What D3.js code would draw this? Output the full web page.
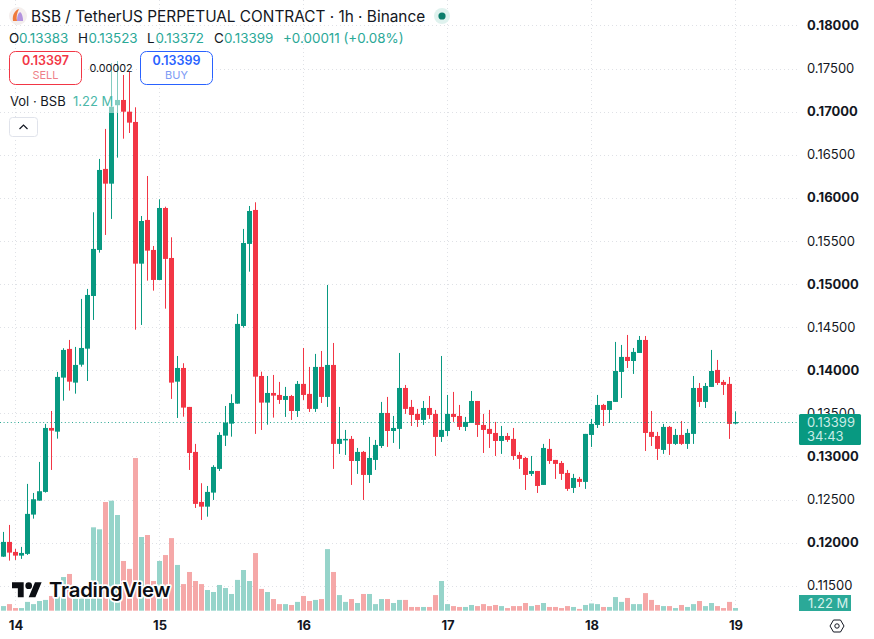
<!DOCTYPE html>
<html>
<head>
<meta charset="utf-8">
<script src="https://cdn.jsdelivr.net/npm/d3@7"></script>
<style>
html,body{margin:0;padding:0;background:#fff;overflow:hidden}
svg{display:block;font-family:Inter,"Noto Sans",sans-serif}
</style>
</head>
<body>
<svg id="chart" width="874" height="639"></svg>
<script>
// Hourly BSB/USDT perpetual candles; the first candle sits two hours before the 14th.
const firstHour = -2;
const opens = [.11837,.12008,.11892,.11849,.11869,.12325,.12487,.12588,.13330,.13287,.13914,.14247,.13856,.14064,.14250,.14861,.15395,.16335,.16164,.17074,.17135,.16999,.16880,.15236,.15743,.15395,.15047,.15882,.15302,.13867,.14026,.13574,.13052,.12472,.12417,.12580,.12855,.13241,.13380,.13612,.14513,.15465,.15859,.13933,.13624,.13736,.13713,.13655,.13701,.13527,.13841,.13725,.13551,.14038,.13690,.14061,.13145,.13191,.13203,.12947,.13052,.12785,.12959,.13121,.13504,.13295,.13319,.13794,.13574,.13493,.13423,.13562,.13493,.13226,.13295,.13493,.13469,.13342,.13388,.13643,.13365,.13319,.13272,.13179,.13237,.13203,.13017,.12982,.12797,.12831,.12669,.13087,.12959,.12924,.12808,.12634,.12739,.12704,.13249,.13365,.13597,.13539,.13632,.13980,.14154,.14107,.14200,.14351,.13284,.13237,.13075,.13342,.13145,.13249,.13145,.13261,.13794,.13632,.13806,.14003,.13864,.13841,.13383];
const highs = [.12124,.12205,.11927,.11950,.12681,.12576,.12936,.13377,.13527,.13980,.14255,.14351,.14270,.14827,.14943,.15832,.16451,.16799,.17564,.17587,.17425,.17463,.17050,.15789,.16253,.15441,.15983,.15897,.15542,.14165,.14081,.13574,.13145,.12689,.12657,.12898,.13280,.13585,.13721,.14653,.15639,.15905,.15948,.13983,.13933,.13945,.13864,.13806,.13713,.13875,.14258,.14038,.14189,.14223,.14989,.14316,.13574,.13307,.13237,.13098,.13063,.13226,.13191,.13632,.13690,.13469,.14200,.13829,.13655,.13551,.13643,.13701,.13539,.14165,.13713,.13748,.13597,.13458,.13759,.13643,.13493,.13539,.13400,.13353,.13272,.13330,.13052,.12994,.13005,.12831,.13145,.13203,.12959,.12947,.12843,.12797,.12762,.13261,.13435,.13713,.13609,.13643,.14328,.14293,.14409,.14258,.14397,.14397,.13527,.13284,.13377,.13353,.13319,.13411,.13319,.13933,.13852,.13852,.14235,.14119,.13887,.13922,.13523];
const lows = [.11834,.11791,.11799,.11811,.11857,.12278,.12487,.12580,.12843,.13206,.13647,.13763,.13728,.14041,.13875,.14583,.15364,.15569,.15755,.16466,.16686,.16752,.14470,.14525,.15039,.14923,.15047,.14714,.13667,.13446,.13461,.12843,.12402,.12263,.12301,.12495,.12831,.13121,.13229,.13612,.14494,.15143,.13261,.13307,.13368,.13450,.13609,.13458,.13423,.13458,.13655,.13516,.13516,.13620,.13574,.12855,.13029,.13017,.12669,.12797,.12495,.12692,.12843,.13098,.13110,.13156,.13087,.13493,.13353,.13342,.13365,.13435,.13005,.13168,.13237,.13400,.13307,.13295,.13388,.13226,.13040,.13098,.13005,.13029,.13168,.12959,.12855,.12611,.12773,.12576,.12669,.12913,.12739,.12727,.12600,.12576,.12646,.12623,.13110,.13330,.13353,.13388,.13632,.13678,.14026,.13957,.14200,.13063,.13121,.12959,.13029,.13017,.13133,.13133,.13087,.13145,.13574,.13562,.13806,.13829,.13713,.13203,.13372];
const closes = [.12008,.11884,.11849,.11880,.12333,.12503,.12596,.13330,.13299,.13922,.14235,.13867,.14061,.14258,.14873,.15407,.16323,.16164,.17057,.17135,.16999,.16872,.15236,.15731,.15387,.15047,.15882,.15291,.13856,.14026,.13566,.13040,.12449,.12417,.12588,.12878,.13249,.13392,.13620,.14537,.15476,.15847,.13925,.13624,.13736,.13705,.13655,.13701,.13527,.13841,.13713,.13551,.14038,.13690,.14061,.13145,.13203,.13203,.12947,.13052,.12785,.12982,.13133,.13504,.13295,.13330,.13794,.13551,.13481,.13423,.13562,.13481,.13226,.13307,.13493,.13458,.13342,.13400,.13643,.13365,.13307,.13261,.13179,.13237,.13191,.13005,.12971,.12785,.12831,.12657,.13098,.12947,.12913,.12797,.12623,.12750,.12704,.13261,.13377,.13597,.13539,.13643,.13991,.14154,.14107,.14212,.14351,.13272,.13226,.13087,.13342,.13145,.13249,.13145,.13272,.13794,.13632,.13817,.13991,.13852,.13829,.13377,.13399];
// Traded volume per candle, in millions of BSB.
const volumes = [2.1,3.0,1.2,1.2,4.0,3.0,4.4,4.9,6.7,6.4,15.3,16.7,5.5,5.5,5.5,37.9,37.0,49.4,50.0,43.5,22.6,19.0,69.4,33.5,34.4,13.5,22.6,25.3,33.0,20.8,12.1,17.6,13.5,12.1,9.4,8.5,11.7,10.3,7.6,14.0,18.5,13.5,26.2,9.9,8.5,5.3,3.0,3.0,2.6,4.0,6.7,4.4,4.9,5.3,28.0,17.6,7.1,4.0,5.3,3.5,7.6,7.6,3.0,5.3,5.3,3.5,4.9,4.9,1.7,1.7,1.7,1.7,7.1,13.5,3.0,2.1,1.7,1.7,2.6,2.1,3.0,2.1,2.6,2.1,1.2,2.1,2.1,3.5,2.1,2.6,3.5,1.7,1.7,1.2,2.1,1.7,0.8,2.6,3.3,3.0,1.7,1.7,6.2,4.0,5.8,3.0,3.0,8.0,4.9,2.6,2.1,2.1,1.2,2.6,1.7,3.0,4.4,2.1,3.5,2.1,1.2,4.0,1.22];

const priceTicks = [.115,.12,.125,.13,.135,.14,.145,.15,.155,.16,.165,.17,.175,.18];
const dayLabels = ["14","15","16","17","18","19"];

const lastClose = .13399;
const title = "BSB / TetherUS PERPETUAL CONTRACT \u00b7 1h \u00b7 Binance";
const legendOHLC = [["O","0.13383",9,19],["H","0.13523",78,88.5],["L","0.13372",147,155.5],["C","0.13399",214,224]];

const GREEN = "#089981", RED = "#f23645", INK = "#131722";
const GRID = "#dfe1e6";

const svg = d3.select("#chart");
const x = d3.scaleLinear().domain([0, 120]).range([15.5, 735.5]);
const y = d3.scaleLinear().domain([.115, .18]).range([585.7, 25.4]);
const vol = d3.scaleLinear().domain([0, 70]).range([610.7, 456.7]);

const candles = opens.map((o, i) => ({
  hour: firstHour + i, o, h: highs[i], l: lows[i], c: closes[i], v: volumes[i], up: closes[i] >= o
}));
const dayHours = dayLabels.map((_, i) => i * 24);

// Dotted grid behind everything
const grid = svg.append("g").attr("stroke", GRID).attr("stroke-dasharray", "1 3");
grid.selectAll("line.h").data(priceTicks).join("line").attr("class", "h")
  .attr("x1", 0).attr("x2", 798).attr("y1", d => Math.round(y(d)) + .5).attr("y2", d => Math.round(y(d)) + .5);
grid.selectAll("line.v").data(dayHours).join("line").attr("class", "v")
  .attr("y1", 0).attr("y2", 612).attr("x1", d => Math.floor(x(d)) + .5).attr("x2", d => Math.floor(x(d)) + .5);

// Volume bars
svg.append("g").selectAll("rect").data(candles).join("rect")
  .attr("x", d => x(d.hour) - 2.5).attr("width", 5)
  .attr("y", d => vol(d.v)).attr("height", d => vol(0) - vol(d.v))
  .attr("fill", d => d.up ? "#96d4ca" : "#f5a8a8");

// Candles: wick first, then body
const candle = svg.append("g");
candle.selectAll("rect.wick").data(candles).join("rect").attr("class", "wick")
  .attr("x", d => x(d.hour) - .5).attr("width", 1)
  .attr("y", d => y(d.h)).attr("height", d => y(d.l) - y(d.h))
  .attr("fill", d => d.up ? GREEN : RED);
candle.selectAll("rect.body").data(candles).join("rect").attr("class", "body")
  .attr("x", d => x(d.hour) - 2.5).attr("width", 5)
  .attr("y", d => y(Math.max(d.o, d.c)))
  .attr("height", d => Math.max(1.5, y(Math.min(d.o, d.c)) - y(Math.max(d.o, d.c))))
  .attr("fill", d => d.up ? GREEN : RED);

// Current price line
svg.append("line").attr("x1", 0).attr("x2", 799)
  .attr("y1", Math.round(y(lastClose)) + .5).attr("y2", Math.round(y(lastClose)) + .5)
  .attr("stroke", GREEN).attr("stroke-opacity", .85).attr("stroke-dasharray", "1 2.6");

// Price axis on the right, round prices in bold
const yAxis = d3.axisRight(y).tickValues(priceTicks).tickSize(0).tickPadding(0).tickFormat(d3.format(".5f"));
const yg = svg.append("g").attr("transform", "translate(807,0)").call(yAxis);
yg.select(".domain").remove();
yg.selectAll("text").attr("font-family", "Inter").attr("font-size", 13).attr("fill", INK).attr("x", 0)
  .attr("font-weight", d => Math.round(d * 1000) % 10 === 0 ? 700 : 400);

// Day axis
const xAxis = d3.axisBottom(x).tickValues(dayHours).tickSize(0).tickPadding(0).tickFormat((d, i) => dayLabels[i]);
const xg = svg.append("g").attr("transform", "translate(0,621)").call(xAxis);
xg.select(".domain").remove();
xg.selectAll("text").attr("font-family", "Inter").attr("font-size", 13).attr("font-weight", 700).attr("fill", INK)
  .attr("dy", "0.71em").attr("y", 0);

// Last price tag and volume tag
svg.append("rect").attr("x", 799).attr("y", 414).attr("width", 62).attr("height", 31).attr("rx", 1.5).attr("fill", GREEN);
svg.append("text").attr("x", 807).attr("y", 427).attr("font-size", 13).attr("fill", "#c9ece6").text(d3.format(".5f")(lastClose));
svg.append("text").attr("x", 807).attr("y", 441).attr("font-size", 13).attr("fill", "#c9ece6").text("34:43");
svg.append("rect").attr("x", 799).attr("y", 595).attr("width", 52).attr("height", 16).attr("fill", "#2ba998");
svg.append("text").attr("x", 808).attr("y", 608).attr("font-size", 13).attr("fill", "#d6f1ec").text("1.22 M");

// Settings hexagon beside the day axis
const gear = svg.append("g").attr("transform", "translate(837,626)").attr("fill", "none").attr("stroke", INK).attr("stroke-width", 1);
gear.append("path").attr("d", "M-7 0L-3.5-6H3.5L7 0L3.5 6H-3.5Z").attr("stroke-linejoin", "round");
gear.append("circle").attr("r", 2.2);

// Watermark
const wm = svg.append("g").attr("transform", "translate(12,579) scale(.835)");
const logoPath = "M14 22H7V11H0V4h14v18zM28 22h-8l7.5-18h8L28 22z";
wm.append("path").attr("d", logoPath).attr("fill", "#fff").attr("stroke", "#fff").attr("stroke-width", 4);
wm.append("circle").attr("cx", 20).attr("cy", 8).attr("r", 4).attr("fill", "#fff").attr("stroke", "#fff").attr("stroke-width", 4);
wm.append("path").attr("d", logoPath).attr("fill", "#0c0e13");
wm.append("circle").attr("cx", 20).attr("cy", 8).attr("r", 4).attr("fill", "#0c0e13");
svg.append("text").attr("x", 49).attr("y", 597).attr("font-size", 20.3).attr("font-weight", 600)
  .attr("letter-spacing", -.2).attr("fill", "#0c0e13").attr("stroke", "#fff").attr("stroke-width", 3.5)
  .attr("stroke-linejoin", "round").attr("paint-order", "stroke").text("TradingView");

// Legend wash over the candles that run behind it
svg.append("rect").attr("x", 100).attr("y", 55).attr("width", 20).attr("height", 58).attr("fill", "#fff").attr("opacity", .5);

// Header
const icon = svg.append("g").attr("transform", "translate(18,16)");
icon.append("circle").attr("r", 9).attr("fill", "#f4efee");
icon.append("path").attr("d", "M-5 5C-6-1-3-6 1-7C-1-3-2 1-1 5Z").attr("fill", "#ef7a3c");
icon.append("path").attr("d", "M-1 5C-1 0 0-3 2-4C4-3 5 1 5 5Z").attr("fill", "#b493de");

svg.append("text").attr("x", 31).attr("y", 22).attr("font-size", 15.37).attr("fill", INK).text(title);
svg.append("circle").attr("cx", 442).attr("cy", 16).attr("r", 8).attr("fill", "#dff2ee");
svg.append("circle").attr("cx", 442).attr("cy", 16).attr("r", 3.6).attr("fill", "#0c7d6b");

const ohlc = svg.append("g").attr("font-size", 13.4);
legendOHLC.forEach(([k, v, keyX, valueX]) => {
  ohlc.append("text").attr("x", keyX).attr("y", 43).attr("fill", INK).text(k);
  ohlc.append("text").attr("x", valueX).attr("y", 43).attr("fill", "#2aa897").text(v);
});
ohlc.append("text").attr("x", 283).attr("y", 43).attr("fill", "#2aa897").text("+0.00011 (+0.08%)");

// Sell and buy buttons
const button = (bx, color, pale, price, label) => {
  svg.append("rect").attr("x", bx).attr("y", 51.5).attr("width", 72).attr("height", 33).attr("rx", 6)
    .attr("fill", "#fff").attr("stroke", color);
  svg.append("text").attr("x", bx + 36).attr("y", 65).attr("text-anchor", "middle").attr("font-size", 12.5)
    .attr("font-weight", 600).attr("fill", color).text(price);
  svg.append("text").attr("x", bx + 36).attr("y", 79).attr("text-anchor", "middle").attr("font-size", 11)
    .attr("fill", pale).text(label);
};
button(9.5, RED, "#ee7f88", "0.13397", "SELL");
button(140.5, "#2962ff", "#7d9bf5", "0.13399", "BUY");
svg.append("text").attr("x", 111).attr("y", 72).attr("text-anchor", "middle").attr("font-size", 10.8).attr("fill", INK).text("0.00002");

// Volume legend and collapse button
svg.append("text").attr("x", 10).attr("y", 106).attr("font-size", 13).attr("fill", INK).text("Vol \u00b7 BSB");
svg.append("text").attr("x", 73).attr("y", 106).attr("font-size", 13).attr("fill", "#4cb8a9").text("1.22 M");
svg.append("rect").attr("x", 9.5).attr("y", 117.5).attr("width", 28).attr("height", 19).attr("rx", 3)
  .attr("fill", "#fff").attr("stroke", "#e0e3eb");
svg.append("path").attr("d", "M19.5 129l4-4 4 4").attr("fill", "none").attr("stroke", INK).attr("stroke-width", 1.2);
</script>
</body>
</html>
